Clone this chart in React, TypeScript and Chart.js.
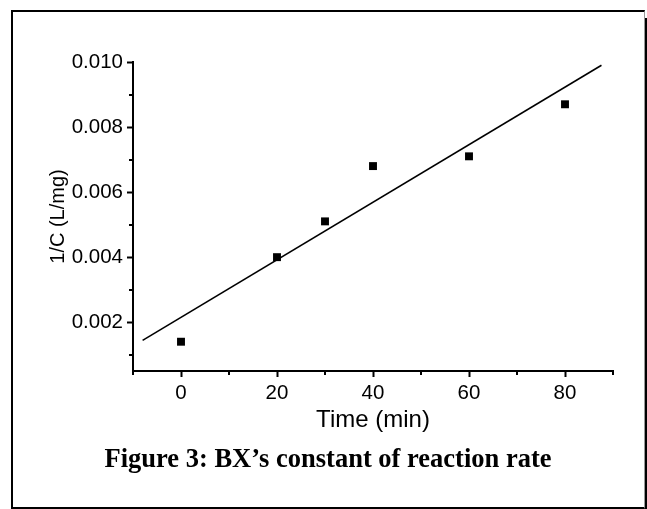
import React, { useEffect, useRef } from "react";
import { Chart, registerables } from "chart.js";

Chart.register(...registerables);

// Data
const timeMin = [0, 20, 30, 40, 60, 80];
const invConc = [0.0014, 0.004, 0.0051, 0.0068, 0.0071, 0.0087];
// Linear fit line end points
const fitTime = [-8, 87.6];
const fitInvConc = [0.00144, 0.0099];
// Axis tick labels
const xMajorTicks = [0, 20, 40, 60, 80];
const yMajorTicks = [0.002, 0.004, 0.006, 0.008, 0.01];

const isXMajor = (v: number) => xMajorTicks.some((t) => Math.abs(t - v) < 1e-6);
const isYMajor = (v: number) => yMajorTicks.some((t) => Math.abs(t - v) < 1e-7);

const SANS = "'Liberation Sans', Arial, sans-serif";

const minorTicksPlugin = {
  id: "minorTicks",
  afterDraw(chart: any) {
    const { ctx } = chart;
    const xs = chart.scales.x;
    const ys = chart.scales.y;
    ctx.save();
    ctx.strokeStyle = "#000";
    ctx.lineWidth = 2;
    xs.ticks.forEach((t: any) => {
      if (isXMajor(t.value)) return;
      const px = Math.round(xs.getPixelForValue(t.value));
      ctx.beginPath();
      ctx.moveTo(px, xs.top);
      ctx.lineTo(px, xs.top + 4);
      ctx.stroke();
    });
    ys.ticks.forEach((t: any) => {
      if (isYMajor(t.value)) return;
      const py = Math.round(ys.getPixelForValue(t.value));
      ctx.beginPath();
      ctx.moveTo(ys.right, py);
      ctx.lineTo(ys.right - 4, py);
      ctx.stroke();
    });
    ctx.restore();
  },
};

export default function App() {
  const canvasRef = useRef<HTMLCanvasElement | null>(null);

  useEffect(() => {
    if (!canvasRef.current) return;
    const chart = new Chart(canvasRef.current, {
      type: "scatter",
      data: {
        datasets: [
          {
            label: "1/C",
            data: timeMin.map((t, i) => ({ x: t, y: invConc[i] })),
            pointStyle: "rect",
            pointRadius: 5.6,
            pointBorderWidth: 0,
            backgroundColor: "#000",
            borderColor: "#000",
            showLine: false,
          },
          {
            label: "fit",
            data: fitTime.map((t, i) => ({ x: t, y: fitInvConc[i] })),
            showLine: true,
            pointRadius: 0,
            borderColor: "#000",
            borderWidth: 1.6,
            backgroundColor: "#000",
          },
        ],
      },
      options: {
        responsive: false,
        animation: false,
        layout: { padding: { top: 62, right: 34, left: 0, bottom: 68 } },
        plugins: {
          legend: { display: false },
          tooltip: { enabled: false },
        },
        scales: {
          x: {
            type: "linear",
            min: -10,
            max: 90,
            afterFit: (s: any) => {
              s.height = 70;
            },
            ticks: {
              stepSize: 10,
              includeBounds: false,
              color: "#000",
              padding: 4,
              font: { family: SANS, size: 20.5 },
              callback: (v: any) => (isXMajor(Number(v)) ? String(v) : ""),
            },
            grid: {
              drawOnChartArea: false,
              drawTicks: true,
              tickLength: 6,
              tickWidth: 2,
              tickColor: (c: any) =>
                c.tick && isXMajor(c.tick.value) ? "#000" : "rgba(0,0,0,0)",
            },
            border: { display: true, color: "#000", width: 2 },
            title: {
              display: true,
              text: "Time (min)",
              color: "#000",
              font: { family: SANS, size: 24 },
              padding: { top: 0, bottom: 6 },
            },
          },
          y: {
            type: "linear",
            min: 0.0005,
            max: 0.01,
            afterFit: (s: any) => {
              s.width = 133;
            },
            ticks: {
              stepSize: 0.001,
              includeBounds: false,
              color: "#000",
              padding: 4,
              font: { family: SANS, size: 20.5 },
              callback: (v: any) =>
                isYMajor(Number(v)) ? Number(v).toFixed(3) : "",
            },
            grid: {
              drawOnChartArea: false,
              drawTicks: true,
              tickLength: 6,
              tickWidth: 2,
              tickColor: (c: any) =>
                c.tick && isYMajor(c.tick.value) ? "#000" : "rgba(0,0,0,0)",
            },
            border: { display: true, color: "#000", width: 2 },
            title: {
              display: true,
              text: "1/C (L/mg)",
              color: "#000",
              font: { family: SANS, size: 20 },
              padding: { top: 46, bottom: 0 },
            },
          },
        },
      },
      plugins: [minorTicksPlugin],
    });
    return () => chart.destroy();
  }, []);

  return (
    <div>
      <div
        style={{
          position: "fixed",
          left: 11,
          top: 10,
          width: 634,
          height: 499,
          boxSizing: "border-box",
          borderLeft: "2px solid #000",
          borderTop: "2px solid #000",
          borderBottom: "2px solid #000",
          borderRight: "1px solid #999",
          boxShadow: "3px 8px 0 0 #000",
          background: "#fff",
        }}
      />
      <canvas
        ref={canvasRef}
        width={647}
        height={509}
        style={{ position: "fixed", left: 0, top: 0, width: 647, height: 509 }}
      />
      <div
        style={{
          position: "fixed",
          left: 11,
          top: 442,
          width: 634,
          height: 32,
          lineHeight: "32px",
          textAlign: "center",
          fontFamily: "'Liberation Serif', 'Times New Roman', serif",
          fontWeight: "bold",
          fontSize: 26.5,
          color: "#000",
          whiteSpace: "nowrap",
        }}
      >
        Figure 3: BX’s constant of reaction rate
      </div>
    </div>
  );
}
